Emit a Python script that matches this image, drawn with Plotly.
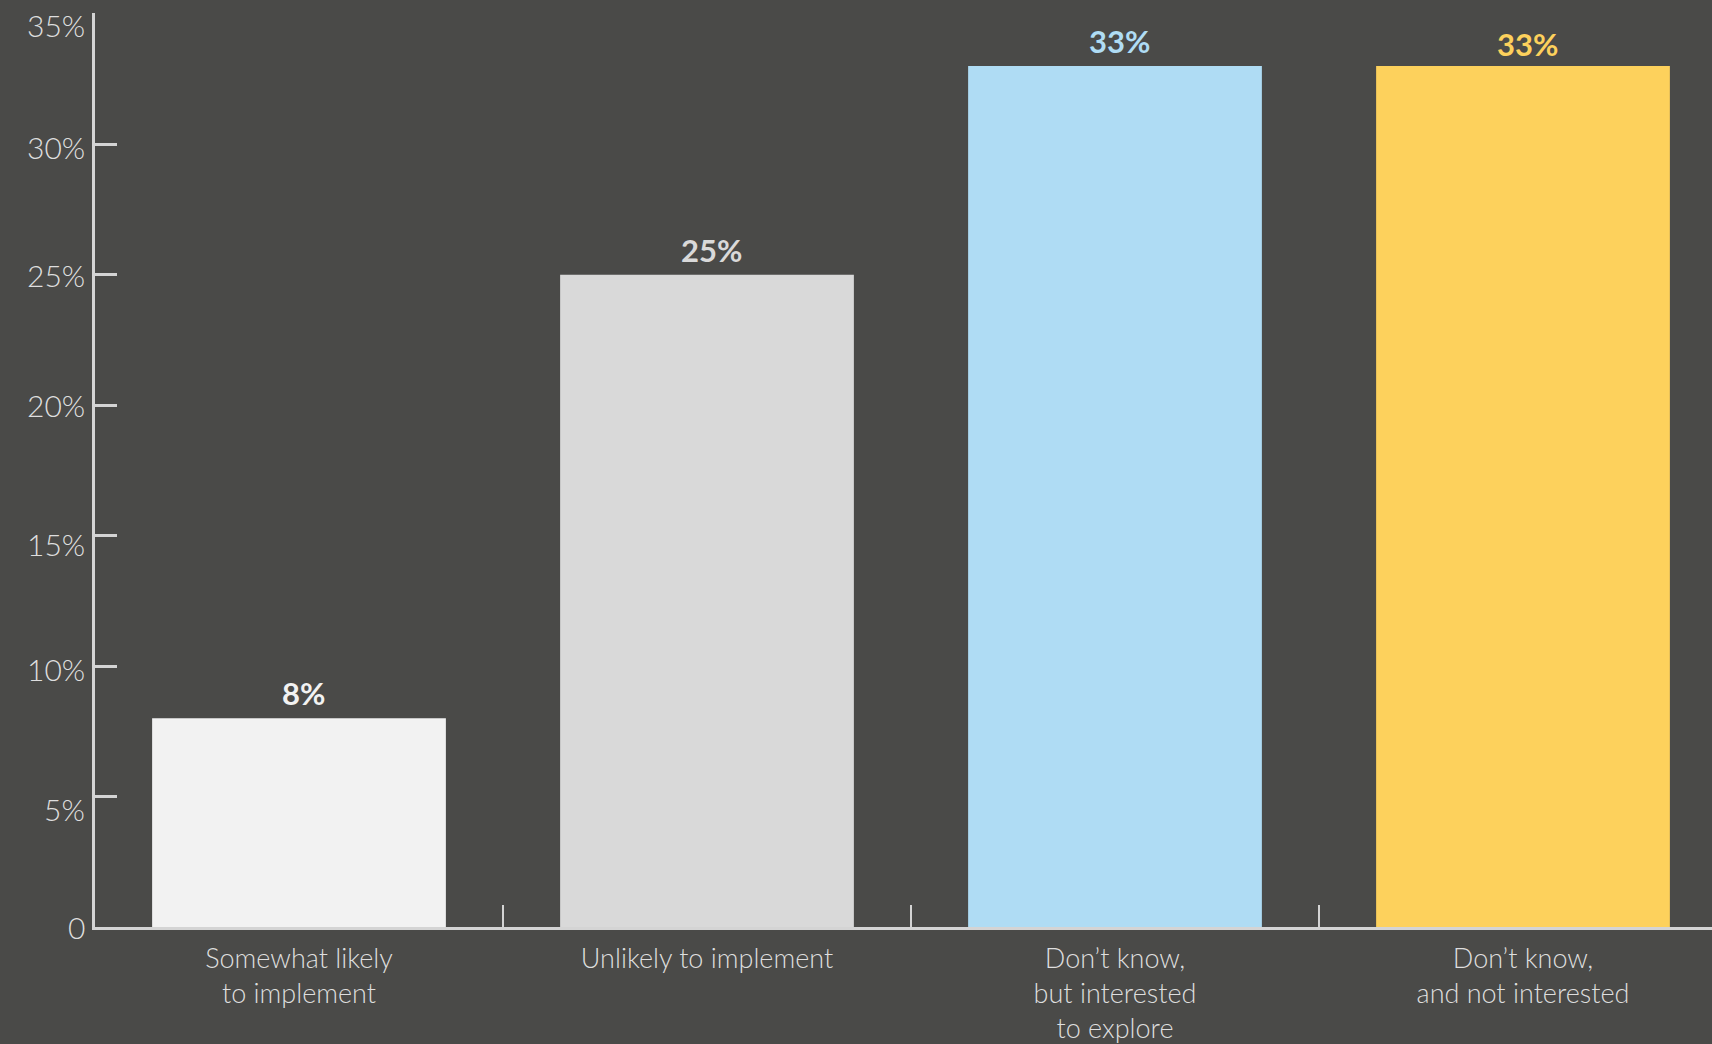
import plotly.graph_objects as go

# Survey responses: likelihood of implementing
categories = [
    "Somewhat likely<br>to implement",
    "Unlikely to implement",
    "Don’t know,<br>but interested<br>to explore",
    "Don’t know,<br>and not interested",
]
shares = [8, 25, 33, 33]
value_labels = ["8%", "25%", "33%", "33%"]
y_tickvals = [0, 5, 10, 15, 20, 25, 30, 35]
y_ticktext = ["0", "5%", "10%", "15%", "20%", "25%", "30%", "35%"]
# vertical nudges (px) of the y tick labels as set in the original layout
y_label_nudge = [0, -12, -3, -8, 0, 0, -3, -11]

bar_colors = ["#f2f2f2", "#d9d9d9", "#afdcf4", "#fdd15c"]
label_colors = ["#f2f2f2", "#d9d9d9", "#afdcf4", "#fdd15c"]
label_yshift = [4, 4, 4, 1]
bg = "#4a4a48"
axis_color = "#d4d4d4"
text_color = "#dedede"
font_family = "Lato, 'Open Sans', sans-serif"

fig = go.Figure()
fig.add_trace(
    go.Bar(
        x=categories,
        y=shares,
        marker=dict(color=bar_colors, line=dict(width=0)),
        hoverinfo="skip",
    )
)

# value labels above each bar
for cat, val, txt, col, dy in zip(categories, shares, value_labels, label_colors, label_yshift):
    fig.add_annotation(
        x=cat, y=val, text=txt,
        showarrow=False, yanchor="bottom", xanchor="center",
        yshift=dy, xshift=4,
        font=dict(family=font_family, size=31, color=col, weight="bold"),
    )

# y tick labels, placed at their tick values
for v, t, dy in zip(y_tickvals, y_ticktext, y_label_nudge):
    fig.add_annotation(
        xref="paper", x=0, yref="y", y=v, text=t,
        showarrow=False, xanchor="right", yanchor="middle",
        xshift=-8, yshift=dy,
        font=dict(family=font_family, size=30, color=text_color, weight=300),
    )

W, H = 1712, 1044
left, right, top, bottom = 95, 0, 13, 117
cat_px = 408
plot_w = W - left - right

fig.update_layout(
    width=W, height=H,
    margin=dict(l=left, r=right, t=top, b=bottom, pad=0, autoexpand=False),
    paper_bgcolor=bg, plot_bgcolor=bg,
    bargap=0.28,
    showlegend=False,
    font=dict(family=font_family, color=text_color, size=27),
)
fig.update_xaxes(
    type="category",
    range=[-0.5, -0.5 + plot_w / cat_px],
    showgrid=False, zeroline=False,
    showline=True, linecolor=axis_color, linewidth=2.5,
    ticks="inside", tickson="boundaries", ticklen=22, tickwidth=2, tickcolor=axis_color,
    tickfont=dict(family=font_family, size=27, color=text_color, weight=300),
    ticklabelstandoff=6,
    automargin=False,
)
fig.update_yaxes(
    range=[0, 35.03],
    tickvals=y_tickvals,
    showticklabels=False,
    showgrid=False, zeroline=False,
    showline=True, linecolor=axis_color, linewidth=2.5,
    ticks="inside", ticklen=22, tickwidth=2.5, tickcolor=axis_color,
    automargin=False,
)

fig.write_html("out.html")
